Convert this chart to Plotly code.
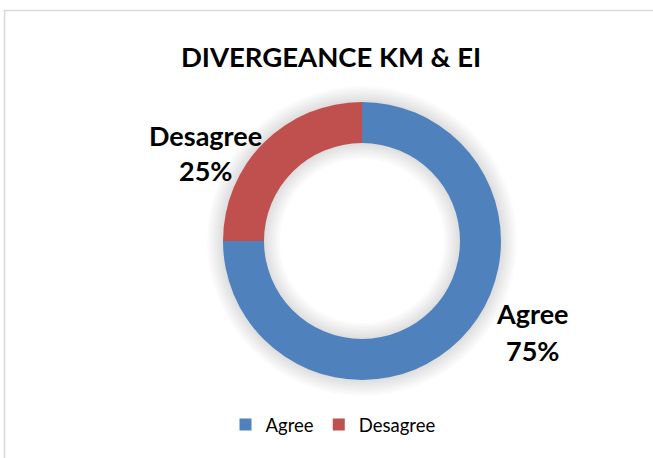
import plotly.graph_objects as go

# Survey answers
categories = ["Agree", "Desagree"]
shares = [75, 25]
colors = ["#4F81BD", "#C0504D"]
title_text = "DIVERGEANCE KM & EI"

W, H = 653, 458
cx, cy = 362, 241          # ring centre in pixels
r_out, r_in = 139, 98      # ring radii in pixels


def domain_for(radius):
    return dict(
        x=[(cx - radius) / W, (cx + radius) / W],
        y=[1 - (cy + radius) / H, 1 - (cy - radius) / H],
    )


fig = go.Figure()

# soft shadow around the ring
for k in range(1, 9):
    ro = r_out + 2.0 * k
    ri = max(r_in - 2.0 * k, 1)
    fig.add_trace(go.Pie(
        values=[1], labels=["shadow"], hole=ri / ro,
        domain=domain_for(ro), sort=False,
        marker=dict(colors=["rgba(0,0,0,0.016)"], line=dict(width=0)),
        textinfo="none", hoverinfo="skip", showlegend=False,
    ))

fig.add_trace(go.Pie(
    labels=categories, values=shares, hole=r_in / r_out,
    domain=domain_for(r_out), sort=False, direction="clockwise", rotation=0,
    marker=dict(colors=colors, line=dict(color="white", width=0)),
    textinfo="none", showlegend=True,
))

total = sum(shares)
label_pos = {"Agree": (532, 313, 350), "Desagree": (205, 135, 170)}
bold = dict(family="Lato, 'Open Sans', sans-serif", size=27, color="black")
for name, val in zip(categories, shares):
    x, y1, y2 = label_pos[name]
    fig.add_annotation(x=x / W, y=1 - y1 / H, xref="paper", yref="paper",
                       xanchor="center", yanchor="middle",
                       text=f"<b>{name}</b>", showarrow=False, font=bold)
    fig.add_annotation(x=x / W, y=1 - y2 / H, xref="paper", yref="paper",
                       xanchor="center", yanchor="middle",
                       text=f"<b>{round(100 * val / total)}%</b>",
                       showarrow=False, font=bold)

# chart frame
fig.add_shape(type="rect", xref="paper", yref="paper",
              x0=4.5 / W, x1=1.05, y0=-0.05, y1=1 - 10.5 / H,
              line=dict(color="#D9D9D9", width=1.5))

fig.update_layout(
    width=W, height=H,
    margin=dict(l=0, r=0, t=0, b=0),
    paper_bgcolor="white", plot_bgcolor="white",
    title=dict(text=f"<b>{title_text}</b>", x=331 / W, xanchor="center",
               y=1 - 57 / H, yanchor="middle",
               font=dict(family="Lato, 'Open Sans', sans-serif", size=27.5,
                         color="black")),
    legend=dict(orientation="h", x=333 / W, xanchor="center",
                y=1 - 425 / H, yanchor="middle",
                font=dict(family="Lato, 'Open Sans', sans-serif", size=18.5,
                          color="black"),
                itemwidth=30, traceorder="normal"),
)

fig.write_html("out.html")
